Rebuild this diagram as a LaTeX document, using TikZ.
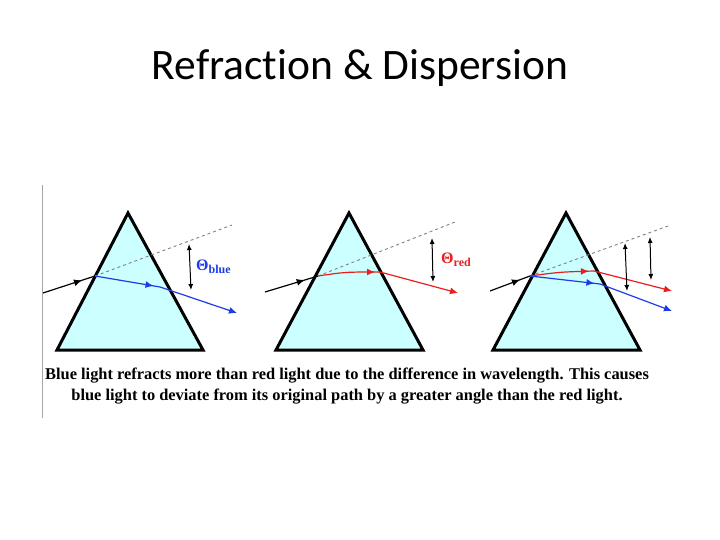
\documentclass[tikz,border=0pt]{standalone}
\usepackage{fontspec}
\setmainfont{Liberation Serif}
\newfontfamily\titlefont[Ligatures={NoCommon,NoDiscretionary,NoRare},Contextuals=NoAlternate]{Carlito}
\usetikzlibrary{arrows.meta,decorations.markings}
\definecolor{glass}{RGB}{204,255,255}
\definecolor{rayblue}{RGB}{30,60,230}
\definecolor{rayred}{RGB}{235,30,30}
\tikzset{
  prism/.style={draw=black,line width=3pt,fill=glass,line join=miter},
  ray/.style={line width=1.2pt},
  midarrow/.style={postaction={decorate},decoration={markings,mark=at position #1 with {\arrow{Latex[length=8pt,width=7pt]}}}},
  guide/.style={draw=gray,dashed,line width=0.9pt},
  angarrow/.style={draw=black,line width=1pt,{Latex[length=6pt,width=5pt]}-{Latex[length=6pt,width=5pt]}},
  endarrow/.style={-{Latex[length=8pt,width=7pt]}}
}
\begin{document}
\begin{tikzpicture}[x=1pt,y=-1pt]
\useasboundingbox (0,0) rectangle (720,540);
\node[font=\titlefont\fontsize{43.5}{48}\selectfont] (title) at (360,68) {Refraction \& Dispersion};
\draw[gray!70,line width=0.8pt] (42,185) -- (42,418);
% prism 1
\draw[prism] (128,213) -- (203,350) -- (57,350) -- cycle;
\coordinate (e1) at (95,276);
\coordinate (b1) at (160,287);
\draw[ray,midarrow=0.75] (43,293) -- (e1);
\draw[guide] (e1) -- (232,225);
\draw[ray,rayblue,midarrow=0.9] (e1) -- (b1);
\draw[ray,rayblue,endarrow] (b1) -- (237,313);
\draw[angarrow] (189,244) -- (191,290);
\node[text=rayblue,font=\bfseries\fontsize{16}{16}\selectfont,anchor=west,inner sep=0pt] (l1) at (196,267) {Θ\fontsize{12}{12}\selectfont\raisebox{-3pt}{blue}};
% prism 2
\draw[prism] (349,213) -- (423,350) -- (276,350) -- cycle;
\coordinate (e2) at (318,276);
\coordinate (r2) at (380,272);
\draw[ray,midarrow=0.75] (265,292) -- (e2);
\draw[guide] (e2) -- (455,222);
\draw[ray,rayred,midarrow=0.92] (e2) .. controls (345,272) .. (r2);
\draw[ray,rayred,endarrow] (r2) -- (458,293);
\draw[angarrow] (432,238) -- (433,282);
\node[text=rayred,font=\bfseries\fontsize{16}{16}\selectfont,anchor=west,inner sep=0pt] (l2) at (441,260) {Θ\fontsize{12}{12}\selectfont\raisebox{-3pt}{red}};
% prism 3
\draw[prism] (566,213) -- (640,350) -- (493,350) -- cycle;
\coordinate (e3) at (530,276);
\coordinate (r3) at (594,271);
\coordinate (b3) at (600,284);
\draw[ray,midarrow=0.75] (490,291) -- (e3);
\draw[guide] (e3) -- (668,226);
\draw[ray,rayred,midarrow=0.92] (e3) .. controls (560,272) .. (r3);
\draw[ray,rayred,endarrow] (r3) -- (672,291);
\draw[ray,rayblue,midarrow=0.92] (e3) -- (b3);
\draw[ray,rayblue,endarrow] (b3) -- (672,311);
\draw[angarrow] (625,243) -- (627,291);
\draw[angarrow] (650,237) -- (651,280);
% caption
\node[font=\bfseries\fontsize{16.4}{21}\selectfont,align=center] (cap) at (347,386) {Blue light refracts more than red light due to the difference in wavelength. This causes\\blue light to deviate from its original path by a greater angle than the red light.};
\end{tikzpicture}
\end{document}
